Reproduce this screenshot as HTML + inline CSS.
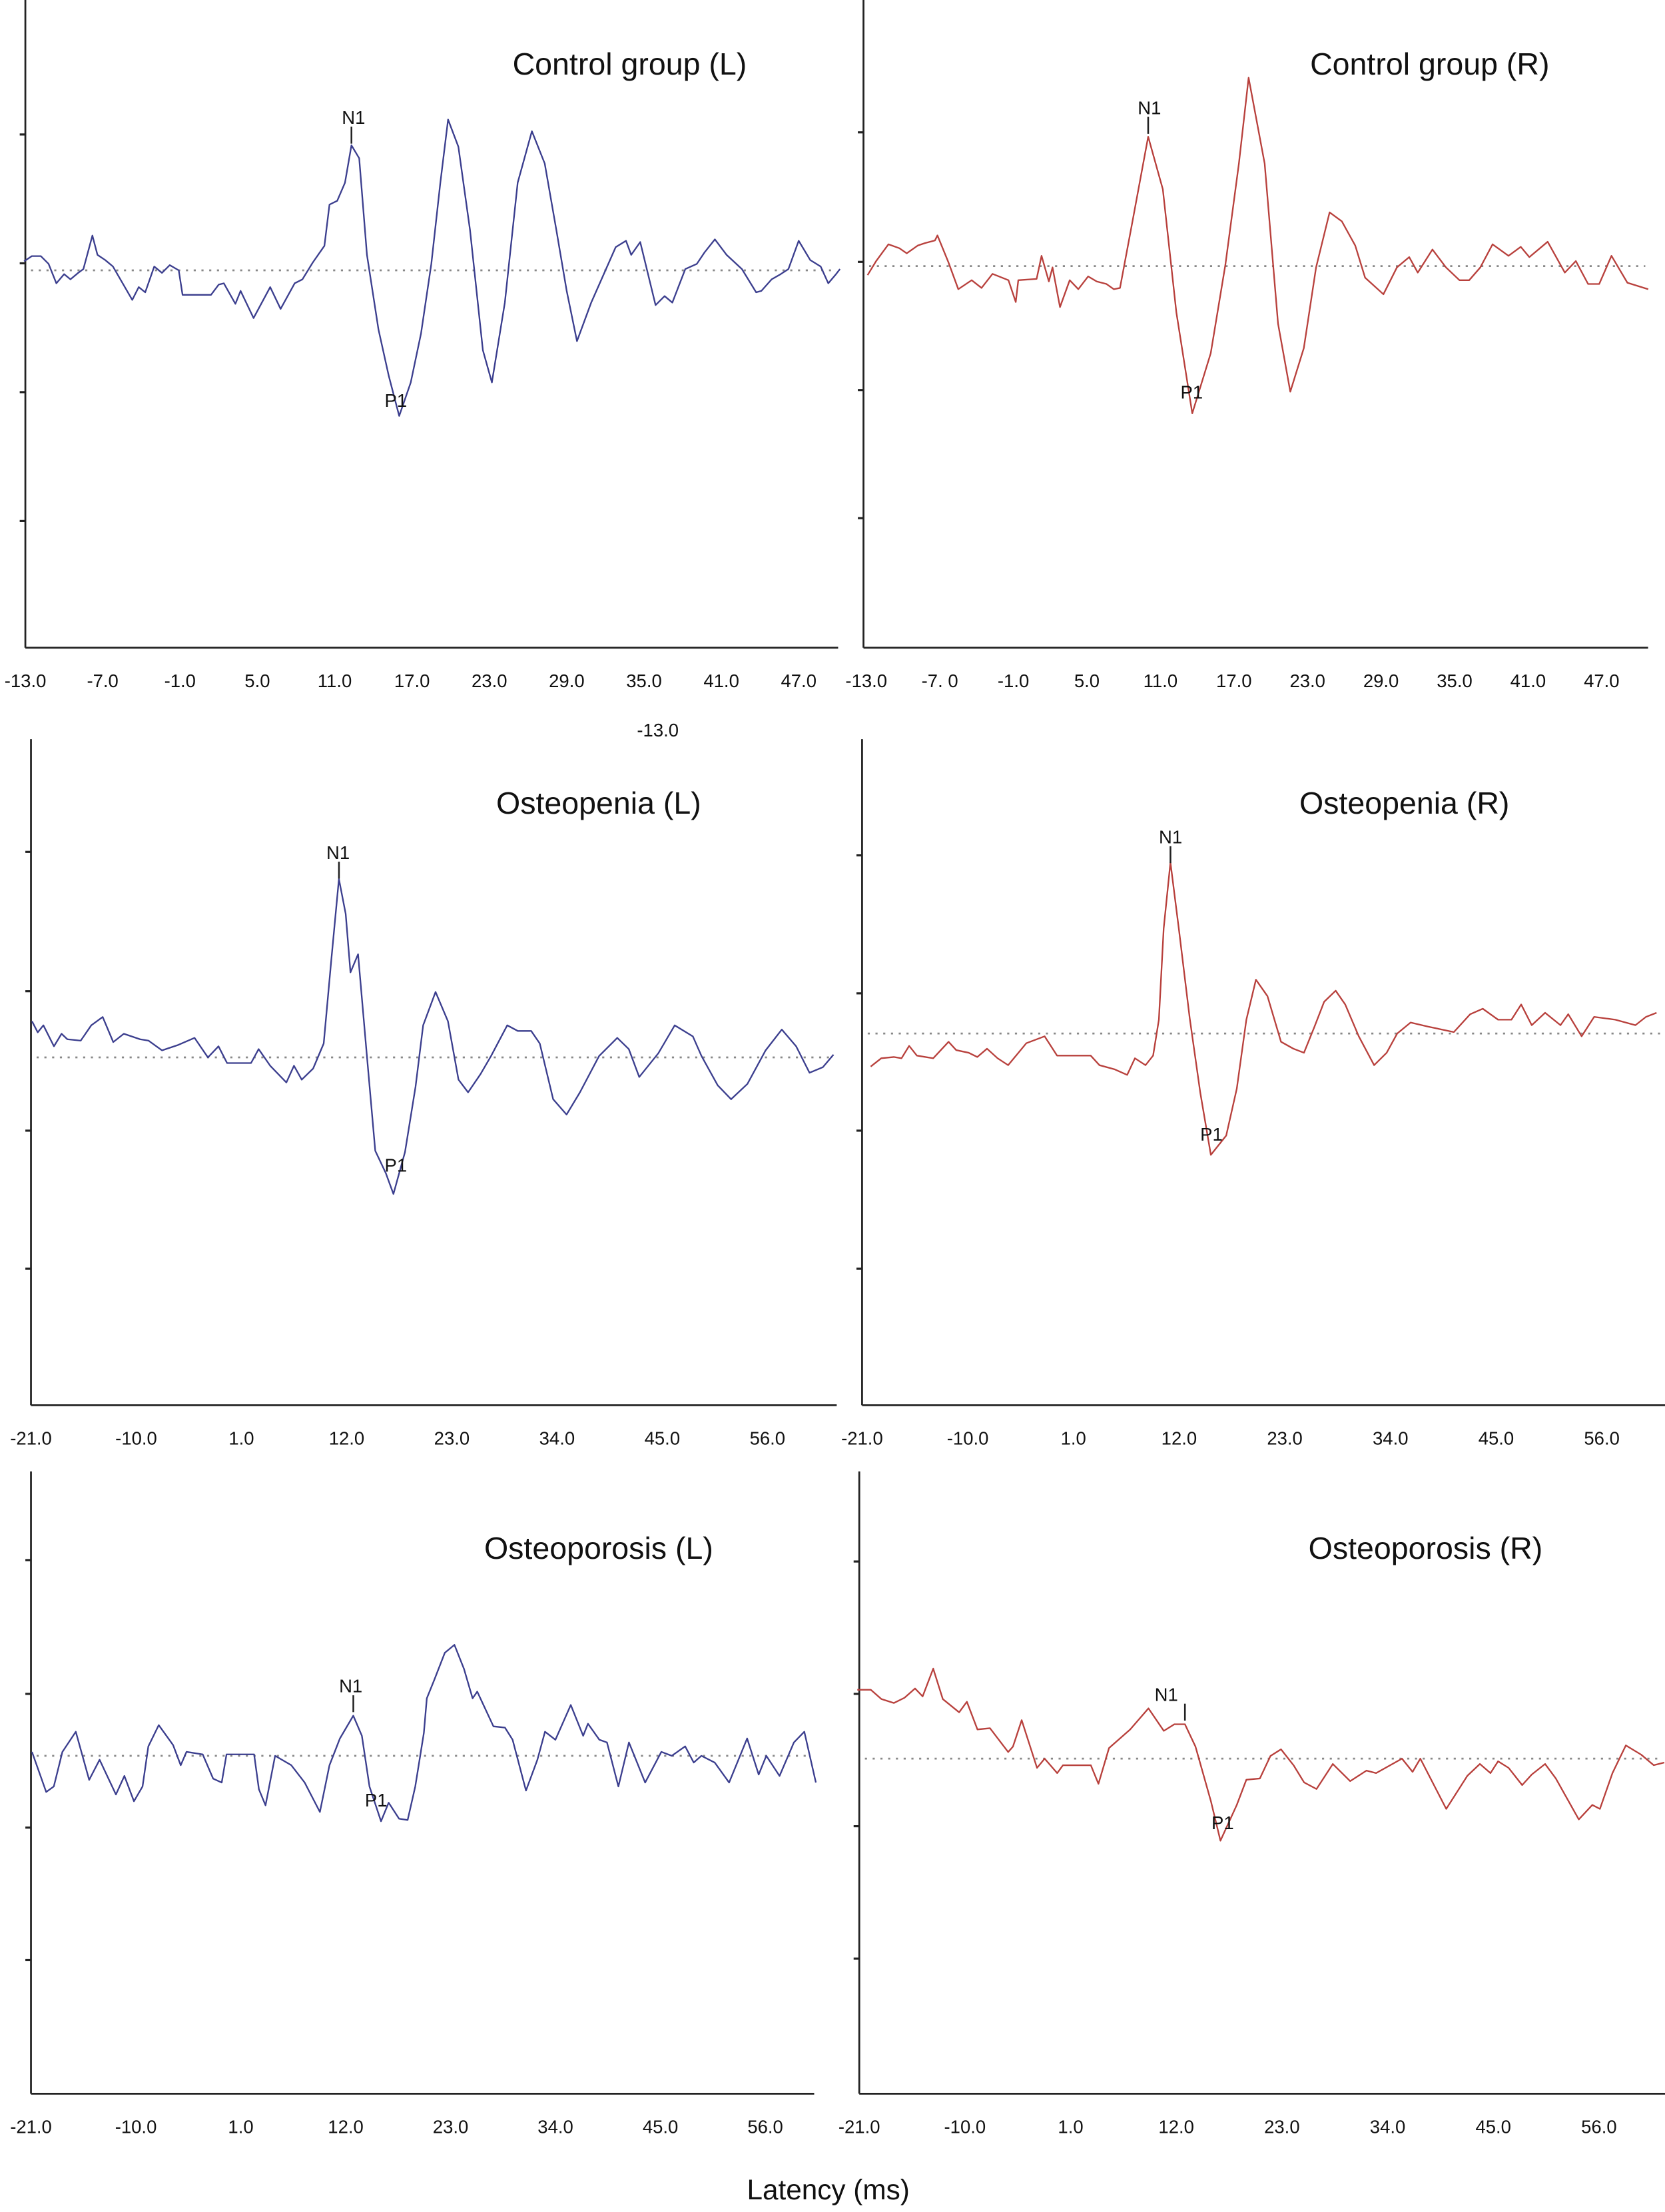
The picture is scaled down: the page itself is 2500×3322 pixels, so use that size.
<!DOCTYPE html>
<html><head><meta charset="utf-8">
<style>
html,body{margin:0;padding:0;background:#fff;}
svg{display:block;}
text{font-family:"Liberation Sans",Arial,sans-serif;fill:#111;}
</style></head>
<body>
<svg id="chart" width="2500" height="3322" viewBox="0 0 1182 1571" preserveAspectRatio="none" xmlns="http://www.w3.org/2000/svg">
<text x="588" y="1562" font-size="20" text-anchor="middle">Latency (ms)</text>
<text x="467" y="523" font-size="13" text-anchor="middle">-13.0</text>
</svg>
<script>
// ---- data (latency ms, amplitude in tick units relative to baseline) ----
const ctrlL_lat = [-13.1,-12.5,-11.8,-11.2,-10.6,-10.0,-9.5,-8.9,-8.5,-7.8,-7.4,-6.8,-6.2,-4.7,-4.2,-3.7,-3.0,-2.4,-1.8,-1.1,-0.8,1.4,2.0,2.4,3.3,3.7,4.7,6.0,6.8,7.9,8.5,9.3,10.2,10.6,11.2,11.8,12.3,12.9,13.5,14.4,15.2,16.0,16.9,17.7,18.5,19.2,19.8,20.6,21.5,22.5,23.2,24.2,25.2,26.3,27.3,28.2,29.0,29.8,30.9,31.7,32.8,33.6,34.0,34.7,35.9,36.6,37.2,38.2,39.1,39.7,40.5,41.4,42.6,43.7,44.1,44.9,45.6,46.2,47.0,47.9,48.7,49.3,49.9,50.2];
const ctrlL_amp = [0.07,0.11,0.11,0.05,-0.10,-0.03,-0.07,-0.02,0.01,0.27,0.12,0.08,0.03,-0.23,-0.13,-0.17,0.03,-0.02,0.04,0.00,-0.19,-0.19,-0.11,-0.10,-0.26,-0.16,-0.37,-0.13,-0.30,-0.10,-0.07,0.06,0.19,0.51,0.54,0.68,0.97,0.87,0.12,-0.46,-0.82,-1.13,-0.87,-0.49,0.05,0.68,1.17,0.96,0.31,-0.62,-0.87,-0.25,0.68,1.08,0.83,0.31,-0.16,-0.55,-0.25,-0.07,0.18,0.23,0.12,0.22,-0.27,-0.20,-0.25,0.01,0.05,0.14,0.24,0.12,0.01,-0.17,-0.16,-0.07,-0.03,0.01,0.23,0.08,0.03,-0.10,-0.03,0.01];
const ctrlR_lat = [-12.9,-12.2,-11.2,-10.3,-9.7,-8.8,-8.2,-7.4,-7.2,-6.3,-5.5,-4.4,-3.6,-2.7,-1.4,-0.8,-0.6,0.9,1.3,1.9,2.2,2.8,3.6,4.3,5.1,5.8,6.6,7.2,7.7,8.7,10.0,11.2,12.3,13.6,15.1,16.3,17.4,18.2,19.5,20.6,21.6,22.7,23.7,24.8,25.8,26.9,27.7,29.2,30.3,31.3,32.0,33.2,34.3,35.4,36.2,37.1,38.1,39.4,40.4,41.1,42.6,44.0,44.9,45.9,46.8,47.8,49.1,50.8];
const ctrlR_amp = [-0.07,0.04,0.17,0.14,0.10,0.16,0.18,0.20,0.24,0.03,-0.18,-0.11,-0.17,-0.06,-0.11,-0.28,-0.11,-0.10,0.08,-0.12,-0.01,-0.32,-0.11,-0.18,-0.08,-0.12,-0.14,-0.18,-0.17,0.34,1.01,0.60,-0.36,-1.15,-0.68,0.01,0.80,1.47,0.80,-0.45,-0.98,-0.64,-0.01,0.42,0.35,0.16,-0.09,-0.22,-0.01,0.07,-0.05,0.13,-0.01,-0.11,-0.11,-0.01,0.17,0.08,0.15,0.07,0.19,-0.05,0.04,-0.14,-0.14,0.08,-0.13,-0.18];
const penL_lat = [-20.9,-20.3,-19.7,-18.6,-17.8,-17.2,-15.8,-14.7,-13.5,-12.4,-11.3,-9.6,-8.7,-7.3,-5.6,-3.9,-2.5,-1.4,-0.5,2.0,2.8,4.0,5.7,6.5,7.3,8.5,9.6,10.4,11.2,11.9,12.4,13.2,14.1,15.0,16.1,16.9,18.1,19.2,20.0,21.3,22.6,23.7,24.7,26.0,27.1,28.8,29.9,31.3,32.2,33.6,35.0,36.4,38.4,40.3,41.5,42.6,44.6,46.3,48.2,49.1,50.8,52.2,53.9,55.8,57.5,59.0,60.4,61.8,62.9];
const penL_amp = [0.26,0.18,0.23,0.08,0.17,0.13,0.12,0.23,0.29,0.11,0.17,0.13,0.12,0.05,0.09,0.14,0.00,0.08,-0.04,-0.04,0.06,-0.06,-0.18,-0.06,-0.16,-0.08,0.10,0.70,1.28,1.03,0.61,0.74,0.03,-0.67,-0.83,-0.98,-0.68,-0.21,0.23,0.47,0.26,-0.16,-0.25,-0.12,0.01,0.23,0.19,0.19,0.10,-0.30,-0.41,-0.25,0.01,0.14,0.06,-0.14,0.03,0.23,0.15,0.01,-0.20,-0.30,-0.19,0.05,0.20,0.08,-0.11,-0.07,0.02];
const penR_lat = [-20.1,-19.0,-17.7,-16.9,-16.1,-15.3,-13.6,-12.0,-11.2,-9.9,-9.0,-8.0,-6.9,-5.8,-3.9,-2.0,-0.7,2.8,3.7,5.3,6.6,7.4,8.5,9.3,9.9,10.4,11.1,12.0,13.1,14.2,15.3,16.9,18.0,19.0,20.0,21.2,22.6,23.9,25.0,26.1,27.1,28.3,29.3,30.7,32.3,33.6,34.7,36.1,37.9,40.6,42.3,43.6,45.2,46.6,47.6,48.7,50.1,51.7,52.5,53.9,55.2,57.4,59.5,60.6,61.7];
const penR_amp = [-0.24,-0.18,-0.17,-0.18,-0.09,-0.16,-0.18,-0.06,-0.12,-0.14,-0.17,-0.11,-0.18,-0.23,-0.07,-0.02,-0.16,-0.16,-0.23,-0.26,-0.30,-0.18,-0.23,-0.16,0.10,0.76,1.24,0.74,0.11,-0.43,-0.88,-0.74,-0.40,0.10,0.39,0.27,-0.06,-0.11,-0.14,0.05,0.23,0.31,0.21,-0.02,-0.23,-0.14,0.00,0.08,0.05,0.01,0.14,0.18,0.10,0.10,0.21,0.06,0.15,0.06,0.14,-0.02,0.12,0.10,0.06,0.12,0.15];
const porL_lat = [-20.9,-19.4,-18.6,-17.7,-16.3,-14.9,-13.8,-12.1,-11.2,-10.2,-9.3,-8.7,-7.6,-6.1,-5.3,-4.7,-3.0,-1.9,-1.0,-0.5,2.4,2.9,3.6,4.6,6.3,7.7,9.3,10.3,11.4,12.8,13.7,14.5,15.7,16.5,17.6,18.5,19.3,20.2,20.5,21.3,22.4,23.4,24.4,25.3,25.8,27.5,28.7,29.5,30.9,32.1,32.9,34.0,35.6,36.9,37.4,38.6,39.4,40.6,41.7,43.4,45.1,46.2,47.6,48.5,49.3,50.7,52.2,54.1,55.3,56.1,57.5,59.0,60.1,61.3];
const porL_amp = [0.03,-0.27,-0.23,0.03,0.18,-0.18,-0.03,-0.29,-0.15,-0.34,-0.23,0.07,0.23,0.08,-0.07,0.03,0.01,-0.17,-0.20,0.01,0.01,-0.25,-0.37,0.00,-0.07,-0.20,-0.42,-0.07,0.13,0.30,0.15,-0.23,-0.49,-0.35,-0.47,-0.48,-0.23,0.17,0.43,0.57,0.77,0.83,0.65,0.43,0.48,0.22,0.21,0.12,-0.26,-0.03,0.18,0.12,0.38,0.15,0.24,0.12,0.10,-0.23,0.10,-0.20,0.03,0.00,0.07,-0.05,0.00,-0.05,-0.20,0.13,-0.14,0.00,-0.15,0.10,0.18,-0.20];
const porR_lat = [-21.2,-19.8,-18.7,-17.4,-16.3,-15.2,-14.4,-13.3,-12.3,-10.6,-9.8,-8.7,-7.4,-5.5,-5.0,-4.1,-2.5,-1.7,-0.4,0.2,3.1,3.9,5.0,7.2,9.1,10.7,11.8,12.9,14.0,15.6,16.6,18.3,19.3,20.7,21.8,22.9,24.2,25.3,26.6,28.3,30.1,31.8,32.8,35.5,36.6,37.4,40.1,42.3,43.6,44.7,45.5,46.6,48.0,49.0,50.4,51.5,53.9,55.3,56.1,57.4,58.8,60.4,61.7,62.8];
const porR_amp = [0.52,0.52,0.45,0.42,0.46,0.53,0.47,0.68,0.45,0.35,0.43,0.22,0.23,0.05,0.09,0.29,-0.07,0.00,-0.11,-0.05,-0.05,-0.19,0.08,0.22,0.38,0.21,0.26,0.26,0.09,-0.32,-0.62,-0.35,-0.16,-0.15,0.02,0.07,-0.05,-0.18,-0.23,-0.04,-0.17,-0.09,-0.11,0.00,-0.10,0.00,-0.38,-0.13,-0.04,-0.11,-0.02,-0.07,-0.20,-0.12,-0.04,-0.15,-0.46,-0.35,-0.38,-0.11,0.10,0.03,-0.05,-0.03];
const ticksTop = ["-13.0","-7.0","-1.0","5.0","11.0","17.0","23.0","29.0","35.0","41.0","47.0"];
const ticksTopR = ["-13.0","-7. 0","-1.0","5.0","11.0","17.0","23.0","29.0","35.0","41.0","47.0"];
const tickValsTop = [-13,-7,-1,5,11,17,23,29,35,41,47];
const ticksLow = ["-21.0","-10.0","1.0","12.0","23.0","34.0","45.0","56.0"];
const tickValsLow = [-21,-10,1,12,23,34,45,56];
const titles = ["Control group (L)","Control group (R)","Osteopenia (L)","Osteopenia (R)","Osteoporosis (L)","Osteoporosis (R)"];
const n1Lat = [12.3,10.0,11.2,11.1,12.8,12.9];
const p1Lat = [16.0,13.6,16.9,15.3,15.7,16.6];

// ---- layout ----
const panels = [
 {lat:ctrlL_lat,amp:ctrlL_amp,ax:18,x0:18,l0:-13,pxms:9.15,top:0,bot:460,right:595,base:192,unit:91.5,yt:[95.5,187,278.5,370],tl:ticksTop,tv:tickValsTop,col:"#3b3e8e",tx:447,ty:53,n1:[251,88],p1:[281,289],key:"control-left"},
 {lat:ctrlR_lat,amp:ctrlR_amp,ax:613,x0:615,l0:-13,pxms:8.7,top:0,bot:460,right:1170,base:189,unit:91,yt:[94,186,277,368],tl:ticksTopR,tv:tickValsTop,col:"#b8403c",tx:1015,ty:53,n1:[816,81],p1:[846,283],key:"control-right"},
 {lat:penL_lat,amp:penL_amp,ax:22,x0:22,l0:-21,pxms:6.79,top:525,bot:998,right:594,base:751,unit:99,yt:[605,704,803,901],tl:ticksLow,tv:tickValsLow,col:"#3b3e8e",tx:425,ty:578,n1:[240,610],p1:[281,832],key:"osteopenia-left"},
 {lat:penR_lat,amp:penR_amp,ax:612,x0:612,l0:-21,pxms:6.82,top:525,bot:998,right:1182,base:734,unit:98,yt:[607.5,705.5,803,901],tl:ticksLow,tv:tickValsLow,col:"#b8403c",tx:997,ty:578,n1:[831,599],p1:[860,810],key:"osteopenia-right"},
 {lat:porL_lat,amp:porL_amp,ax:22,x0:22,l0:-21,pxms:6.77,top:1045,bot:1487,right:578,base:1247,unit:95,yt:[1108,1203,1298,1392],tl:ticksLow,tv:tickValsLow,col:"#3b3e8e",tx:425,ty:1107,n1:[249,1202],p1:[267,1283],key:"osteoporosis-left"},
 {lat:porR_lat,amp:porR_amp,ax:610,x0:610,l0:-21,pxms:6.82,top:1045,bot:1487,right:1182,base:1249,unit:94,yt:[1109,1203,1297,1391],tl:ticksLow,tv:tickValsLow,col:"#b8403c",tx:1012,ty:1107,n1:[828,1208],p1:[868,1299],key:"osteoporosis-right"}
];
const NS="http://www.w3.org/2000/svg";
const svg=document.getElementById('chart');
function mk(tag,attrs){const e=document.createElementNS(NS,tag);for(const k in attrs)e.setAttribute(k,attrs[k]);return e;}
panels.forEach((p,i)=>{
  const g=mk('g',{});
  
  
  svg.appendChild(g);
  const xs=l=>p.x0+(l-p.l0)*p.pxms;
  const ys=a=>p.base-a*p.unit;
  const yaxis=mk('line',{x1:p.ax,y1:p.top,x2:p.ax,y2:p.bot,stroke:'#222','stroke-width':1.3});
  
  
  g.appendChild(yaxis);
  const xaxis=mk('line',{x1:p.ax,y1:p.bot,x2:p.right,y2:p.bot,stroke:'#222','stroke-width':1.3});
  
  
  g.appendChild(xaxis);
  p.yt.forEach(y=>{
    const t=mk('line',{x1:p.ax-4,y1:y,x2:p.ax,y2:y,stroke:'#222','stroke-width':1.5});
    
    
    g.appendChild(t);
  });
  p.tv.forEach((v,j)=>{
    const t=mk('text',{x:xs(v),y:p.bot+28,'font-size':13,'text-anchor':'middle'});
    t.textContent=p.tl[j];
    
    
    g.appendChild(t);
  });
  const bl=mk('line',{x1:p.ax+4,y1:p.base,x2:p.right-2,y2:p.base,stroke:'#888','stroke-width':1.3,'stroke-dasharray':'1.5 4'});
  
  
  g.appendChild(bl);
  let d='';
  p.lat.forEach((l,j)=>{d+=(j?'L':'M')+xs(l).toFixed(1)+' '+ys(p.amp[j]).toFixed(1);});
  const path=mk('path',{d:d,fill:'none',stroke:p.col,'stroke-width':1.1,'stroke-linejoin':'round'});
  
  
  g.appendChild(path);
  const tt=mk('text',{x:p.tx,y:p.ty,'font-size':22,'text-anchor':'middle'});
  tt.textContent=titles[i];
  
  
  g.appendChild(tt);
  const n1=mk('text',{x:p.n1[0],y:p.n1[1],'font-size':13,'text-anchor':'middle'});
  n1.textContent='N1';
  
  
  g.appendChild(n1);
  const n1m=mk('line',{x1:xs(n1Lat[i]),y1:p.n1[1]+2,x2:xs(n1Lat[i]),y2:p.n1[1]+14,stroke:'#222','stroke-width':1.2});
  
  
  g.appendChild(n1m);
  const p1=mk('text',{x:p.p1[0],y:p.p1[1],'font-size':13,'text-anchor':'middle'});
  p1.textContent='P1';
  
  
  g.appendChild(p1);
});
</script>
</body></html>
